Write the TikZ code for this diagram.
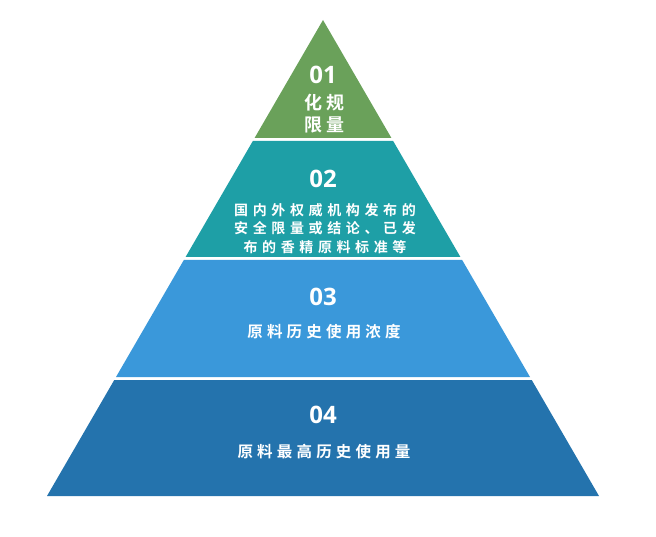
\documentclass[tikz,border=0pt]{standalone}
\usepackage{fontspec}
\setmainfont{Open Sans}
\newfontfamily\cjk{Noto Sans CJK SC Bold}
\usetikzlibrary{calc}
\definecolor{lvgreen}{HTML}{6AA15A}
\definecolor{lvteal}{HTML}{1E9FA6}
\definecolor{lvblue}{HTML}{3A98DA}
\definecolor{lvdark}{HTML}{2473AD}
\tikzset{every node/.style={text=white, inner sep=0pt, align=center},
  num/.style={font=\bfseries\fontsize{24}{24}\selectfont},
  tag/.style={font=\cjk\fontsize{15.5}{15.5}\selectfont\addfontfeature{LetterSpace=27}}}

\begin{document}
\begin{tikzpicture}[x=1pt,y=-1pt]
   \useasboundingbox (0,0) rectangle (656,537);
   \coordinate (top) at (323,20);
   \coordinate (bl) at (47,496);
   \coordinate (br) at (599,496);
   % bands of the pyramid
   \fill[lvgreen] (top) -- ($(top)!0.2479!(bl)$) -- ($(top)!0.2479!(br)$) -- cycle;
   \fill[lvteal] ($(top)!0.2542!(bl)$) -- ($(top)!0.4979!(bl)$) -- ($(top)!0.4979!(br)$) -- ($(top)!0.2542!(br)$) -- cycle;
   \fill[lvblue] ($(top)!0.5042!(bl)$) -- ($(top)!0.75!(bl)$) -- ($(top)!0.75!(br)$) -- ($(top)!0.5042!(br)$) -- cycle;
   \fill[lvdark] ($(top)!0.7563!(bl)$) -- (bl) -- (br) -- ($(top)!0.7563!(br)$) -- cycle;
   % texts
   \node[num] (n1) at (323,75) {01};
   \node[font=\cjk\fontsize{18}{22}\selectfont\addfontfeature{LetterSpace=18}] (t1) at (324.5,114) {化规\\限量};
   \node[num] (n2) at (323,179) {02};
   \node[font=\cjk\fontsize{14}{18.5}\selectfont\addfontfeature{LetterSpace=33}] (t2) at (325,228.5) {国内外权威机构发布的\\安全限量或结论、已发\\布的香精原料标准等};
   \node[num] (n3) at (323,297) {03};
   \node[tag] (t3) at (324,332) {原料历史使用浓度};
   \node[num] (n4) at (323,415) {04};
   \node[tag] (t4) at (324,452) {原料最高历史使用量};
  \end{tikzpicture}
\end{document}
